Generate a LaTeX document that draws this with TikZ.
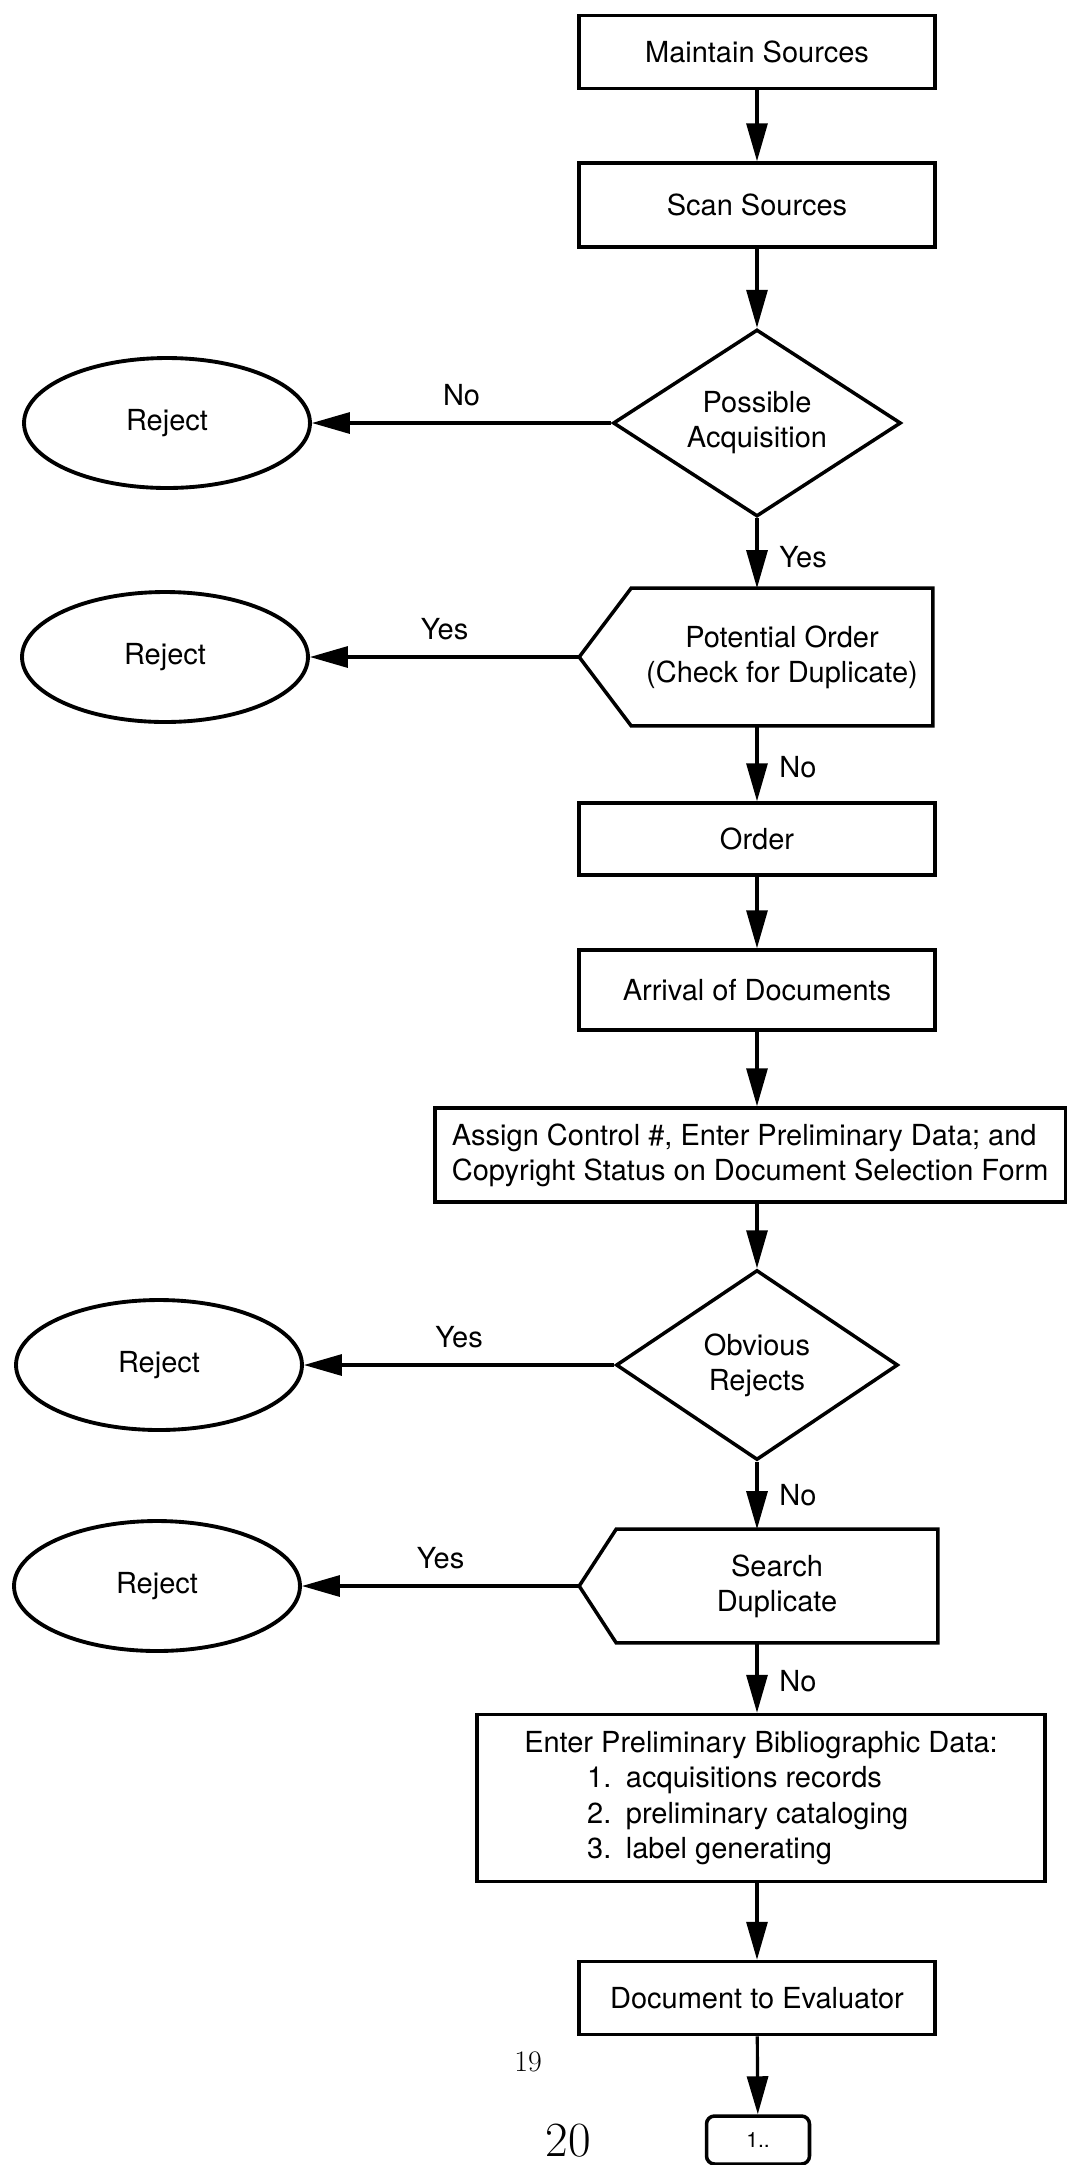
\documentclass[tikz,border=0pt]{standalone}
\usepackage{fontspec}
\setsansfont{TeX Gyre Heros}
\usetikzlibrary{arrows.meta}
\usetikzlibrary{positioning}
\usetikzlibrary{shapes}

\begin{document}
\begin{tikzpicture}[x=0.02cm, y=-0.02cm, font=\sffamily\fontsize{16.5}{20}\selectfont]
      \useasboundingbox (0,0) rectangle (1068,2165);
      \begin{scope}[every node/.style={rectangle, draw=black, line width=2pt, minimum width=7.12cm, inner sep=0pt}]
        \node[minimum height=1.46cm] (maintain)  at (757,52)   {Maintain Sources};
        \node[minimum height=1.68cm] (scan)      at (757,205)  {Scan Sources};
        \node[minimum height=1.44cm] (order)     at (757,839)  {Order};
        \node[minimum height=1.6cm]  (arrival)   at (757,990)  {Arrival of Documents};
        \node[minimum height=1.46cm] (evaluator) at (757,1998) {Document to Evaluator};
      \end{scope}
      \begin{scope}[every node/.style={rectangle, draw=black, line width=2pt, align=left, inner sep=0pt}]
        \node[anchor=west, minimum width=12.62cm, minimum height=1.88cm] (assign) at (433,1155)
          {Assign Control \#, Enter Preliminary Data; and\\Copyright Status on Document Selection Form};
        \node[minimum width=11.36cm, minimum height=3.34cm] (enter) at (761,1798)
          {Enter Preliminary Bibliographic Data:\\
           \hspace*{1.26cm}1.\enspace acquisitions records\\
           \hspace*{1.26cm}2.\enspace preliminary cataloging\\
           \hspace*{1.26cm}3.\enspace label generating};
      \end{scope}
      \begin{scope}[every node/.style={diamond, draw=black, line width=2pt, inner sep=0pt, align=center}]
        \node[minimum width=5.76cm, minimum height=3.74cm, aspect=1.54] (possible) at (757,423)  {Possible\\Acquisition};
        \node[minimum width=5.64cm, minimum height=3.8cm, aspect=1.48]  (obvious)  at (757,1365) {Obvious\\Rejects};
      \end{scope}
      \begin{scope}[every node/.style={rectangle, inner sep=0pt, align=center}]
        \node[minimum width=6.02cm, minimum height=2.74cm] (potential) at (782,657)  {Potential Order\\(Check for Duplicate)};
        \node[minimum width=6.42cm, minimum height=2.26cm] (search)    at (777,1586) {Search\\Duplicate};
      \end{scope}
      \coordinate (potential tip) at ([xshift=-1.04cm]potential.west);
      \coordinate (search tip) at ([xshift=-0.74cm]search.west);
      \draw[line width=2pt] (potential.north west) -- (potential.north east) -- (potential.south east)
        -- (potential.south west) -- (potential tip) -- cycle;
      \draw[line width=2pt] (search.north west) -- (search.north east) -- (search.south east)
        -- (search.south west) -- (search tip) -- cycle;
      \begin{scope}[every node/.style={ellipse, draw=black, line width=2.2pt, minimum width=5.72cm, minimum height=2.6cm}]
        \node (reject1) at (167,423)  {Reject};
        \node (reject2) at (165,657)  {Reject};
        \node (reject3) at (159,1365) {Reject};
        \node (reject4) at (157,1586) {Reject};
      \end{scope}
      \node[rectangle, rounded corners=0.16cm, draw=black, line width=2pt, minimum width=2.06cm, minimum height=0.96cm,
        font=\sffamily\fontsize{12}{14}\selectfont] (next) at (758,2140) {1..};
      \node[font=\rmfamily\fontsize{17}{20}\selectfont] (page19) at (528,2062) {19};
      \node[font=\rmfamily\fontsize{28}{32}\selectfont] (page20) at (568,2141) {20};
      \begin{scope}[every edge/.style={draw=black, line width=1.8pt, -{Triangle[length=0.76cm,width=0.42cm]}}]
        \path (maintain) edge (scan);
        \path (scan) edge (possible);
        \path (possible.south) edge node[right=0.3cm, pos=0.55] {Yes} (possible.south |- potential.north);
        \path (potential.south -| order.north) edge node[right=0.3cm, pos=0.55] {No} (order.north);
        \path (order) edge (arrival);
        \path (arrival.south) edge (arrival.south |- assign.north);
        \path (arrival.south |- assign.south) edge (obvious.north);
        \path (obvious.south) edge node[right=0.3cm, pos=0.5] {No} (obvious.south |- search.north);
        \path (obvious.south |- search.south) edge node[right=0.3cm, pos=0.55] {No} (obvious.south |- enter.north);
        \path (obvious.south |- enter.south) edge (evaluator);
        \path (evaluator) edge (next);
        \path (possible.west) edge node[above=0.2cm] {No} (reject1.east);
        \path (potential tip) edge node[above=0.2cm] {Yes} (reject2.east);
        \path (obvious.west) edge node[above=0.2cm] {Yes} (reject3.east);
        \path (search tip) edge node[above=0.2cm] {Yes} (reject4.east);
      \end{scope}
    \end{tikzpicture}
\end{document}
